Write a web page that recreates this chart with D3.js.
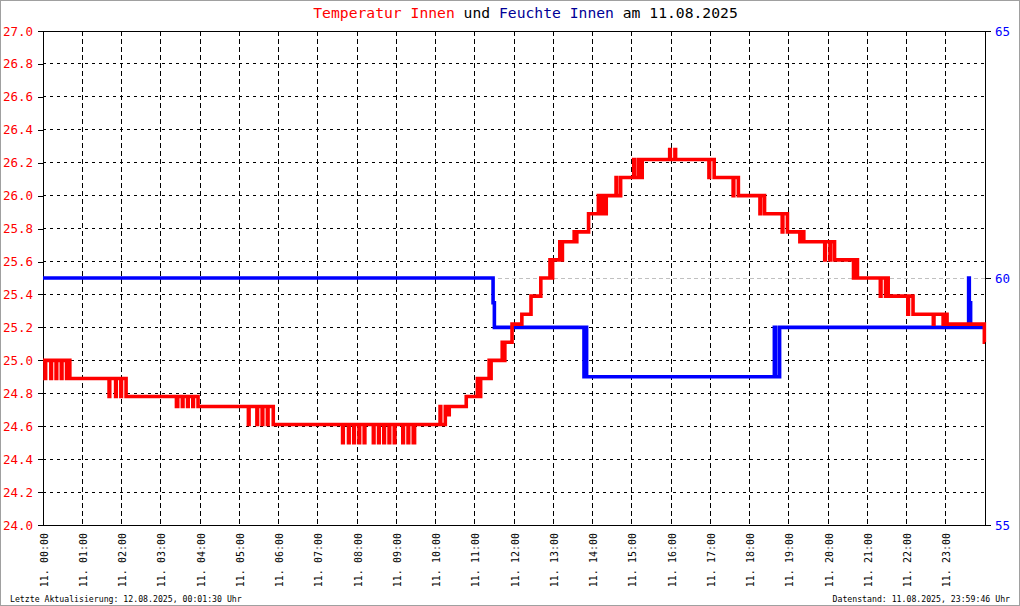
<!DOCTYPE html>
<html>
<head>
<meta charset="utf-8">
<script src="https://cdn.jsdelivr.net/npm/d3@7"></script>
<style>
  html, body { margin: 0; padding: 0; background: #fff; }
  svg { display: block; }
  text { font-family: "DejaVu Sans Mono", monospace; }
</style>
</head>
<body>
<svg id="chart" width="1020" height="606"></svg>
<script>
// values (time in minutes since 00:00)
const tempTicks = [24.0, 24.2, 24.4, 24.6, 24.8, 25.0, 25.2, 25.4, 25.6, 25.8, 26.0, 26.2, 26.4, 26.6, 26.8, 27.0];
const humTicks = [55, 60, 65];
const hourTicks = [0, 1, 2, 3, 4, 5, 6, 7, 8, 9, 10, 11, 12, 13, 14, 15, 16, 17, 18, 19, 20, 21, 22, 23];
const hourLabels = ["11. 00:00", "11. 01:00", "11. 02:00", "11. 03:00", "11. 04:00", "11. 05:00",
  "11. 06:00", "11. 07:00", "11. 08:00", "11. 09:00", "11. 10:00", "11. 11:00",
  "11. 12:00", "11. 13:00", "11. 14:00", "11. 15:00", "11. 16:00", "11. 17:00",
  "11. 18:00", "11. 19:00", "11. 20:00", "11. 21:00", "11. 22:00", "11. 23:00"];

// temperature, [minute, °C], step values
const tempSeries = [
  [0,25.0],[3,24.89],[4,25.0],[12,24.89],[13,25.0],[20,24.89],[21,25.0],[28,24.89],[29,25.0],[36,24.89],[37,25.0],[41,24.89],
  [101,24.78],[102,24.89],[111,24.78],[112,24.89],[119,24.78],[120,24.89],[127,24.78],
  [204,24.72],[206,24.78],[213,24.72],[214,24.78],[221,24.72],[222,24.78],[229,24.72],[230,24.78],[237,24.72],
  [314,24.61],[315,24.72],[327,24.61],[328,24.72],[335,24.61],[336,24.72],[343,24.61],[344,24.72],[352,24.61],
  [458,24.5],[459,24.61],[467,24.5],[468,24.61],[475,24.5],[476,24.61],[483,24.5],[484,24.61],[491,24.5],[492,24.61],
  [505,24.5],[506,24.61],[513,24.5],[514,24.61],[521,24.5],[522,24.61],[529,24.5],[530,24.61],[537,24.5],[538,24.61],
  [550,24.5],[551,24.61],[558,24.5],[559,24.61],[566,24.5],[568,24.61],
  [607,24.72],[608,24.61],[615,24.72],[620,24.67],[621,24.72],
  [647,24.78],[664,24.89],[665,24.78],[669,24.89],[682,25.0],[683,24.89],[685,25.0],
  [702,25.11],[703,25.0],[706,25.11],[717,25.22],[732,25.28],[746,25.39],[761,25.5],
  [775,25.61],[776,25.5],[779,25.61],[790,25.72],[791,25.61],[794,25.72],
  [812,25.78],[813,25.72],[816,25.78],[834,25.89],
  [849,26.0],[850,25.89],[855,26.0],[856,25.89],[861,26.0],
  [876,26.11],[877,26.0],[883,26.11],
  [903,26.22],[904,26.11],[910,26.22],[911,26.11],[916,26.22],
  [958,26.28],[959,26.22],[966,26.28],[967,26.22],
  [1018,26.11],[1019,26.22],[1026,26.11],
  [1055,26.0],[1056,26.11],[1063,26.0],
  [1096,25.89],[1097,26.0],[1103,25.89],
  [1130,25.78],[1131,25.89],[1138,25.78],
  [1157,25.72],[1158,25.78],[1163,25.72],
  [1195,25.61],[1196,25.72],[1203,25.61],[1204,25.72],[1210,25.61],
  [1239,25.5],[1240,25.61],[1245,25.5],
  [1280,25.39],[1281,25.5],[1288,25.39],[1289,25.5],[1292,25.39],
  [1322,25.28],[1323,25.39],[1330,25.28],
  [1361,25.22],[1362,25.28],[1376,25.22],[1377,25.28],[1382,25.22],
  [1439,25.11],[1440,25.11]
];

// humidity, [minute, %]
const humSeries = [
  [0,60],[688,59.5],[690,59],[827,58],[829,59],[831,58],
  [1118,59],[1120,58],[1126,59],[1415,60],[1416,59.5],[1418,59],[1440,59]
];

const svg = d3.select("#chart");
const W = 1020, H = 606;
const margin = { top: 31, right: 35, bottom: 81, left: 43 };

const x = d3.scaleLinear().domain([0, 1440]).range([margin.left, W - margin.right]);
const yT = d3.scaleLinear().domain([24, 27]).range([H - margin.bottom, margin.top]);
const yH = d3.scaleLinear().domain([55, 65]).range([H - margin.bottom, margin.top]);

// outer grey border
svg.append("rect")
  .attr("x", 0.5).attr("y", 0.5).attr("width", W - 1).attr("height", H - 1)
  .attr("fill", "#fff").attr("stroke", "#a0a0a0");

// grid
const grid = svg.append("g").attr("shape-rendering", "crispEdges");
grid.selectAll(".hgrid")
  .data(tempTicks.filter(d => d > 24 && d < 27))
  .join("line")
  .attr("x1", x(0)).attr("x2", x(1440))
  .attr("y1", d => yT(d)).attr("y2", d => yT(d))
  .attr("stroke", "#000").attr("stroke-dasharray", "3,4");

grid.selectAll(".vgrid")
  .data(hourTicks.filter(d => d > 0))
  .join("line")
  .attr("x1", d => x(d * 60)).attr("x2", d => x(d * 60))
  .attr("y1", yT(27)).attr("y2", yT(24))
  .attr("stroke", "#000").attr("stroke-dasharray", "5,3");

// 60 % reference line
grid.append("line")
  .attr("x1", x(0)).attr("x2", x(1440))
  .attr("y1", yH(60)).attr("y2", yH(60))
  .attr("stroke", "#c0c0c0").attr("stroke-dasharray", "4,3");

// frame
svg.append("rect")
  .attr("x", x(0)).attr("y", yT(27))
  .attr("width", x(1440) - x(0)).attr("height", yT(24) - yT(27))
  .attr("fill", "none").attr("stroke", "#000")
  .attr("shape-rendering", "crispEdges");

// left axis
const axL = svg.append("g")
  .attr("transform", `translate(${x(0)},0)`)
  .call(d3.axisLeft(yT).tickValues(tempTicks).tickFormat(d3.format(".1f")).tickSize(5).tickPadding(5));
axL.select(".domain").remove();
axL.selectAll("line").attr("stroke", "#000").attr("shape-rendering", "crispEdges");
axL.selectAll("text").attr("fill", "#ff0000").attr("font-size", 12.5)
  .attr("font-family", "DejaVu Sans Mono, monospace");

// right axis
const axR = svg.append("g")
  .attr("transform", `translate(${x(1440)},0)`)
  .call(d3.axisRight(yH).tickValues(humTicks).tickSize(6).tickPadding(4));
axR.select(".domain").remove();
axR.selectAll("line").attr("stroke", "#000").attr("shape-rendering", "crispEdges");
axR.selectAll("text").attr("fill", "#0000ff").attr("font-size", 12.5)
  .attr("font-family", "DejaVu Sans Mono, monospace");

// bottom labels
const axB = svg.append("g")
  .attr("transform", `translate(0,${yT(24)})`)
  .call(d3.axisBottom(x).tickValues(hourTicks.map(h => h * 60)).tickSize(0)
    .tickFormat((d, i) => hourLabels[i]));
axB.select(".domain").remove();
axB.selectAll("text")
  .attr("font-size", 10)
  .attr("font-family", "DejaVu Sans Mono, monospace")
  .attr("fill", "#000")
  .attr("text-anchor", "end")
  .attr("transform", "rotate(-90)")
  .attr("x", -8).attr("y", 4).attr("dy", 0);

// series
const stepLine = (yScale) => d3.line()
  .x(d => x(d[0])).y(d => yScale(d[1]))
  .curve(d3.curveStepAfter);

svg.append("path")
  .datum(humSeries)
  .attr("d", stepLine(yH))
  .attr("fill", "none").attr("stroke", "#0000ff").attr("stroke-width", 3.6)
  .attr("stroke-linejoin", "miter");

svg.append("path")
  .datum(tempSeries)
  .attr("d", stepLine(yT))
  .attr("fill", "none").attr("stroke", "#ff0000").attr("stroke-width", 3.6)
  .attr("stroke-linejoin", "miter");

// title
const title = svg.append("text")
  .attr("x", 525.5).attr("y", 18)
  .attr("text-anchor", "middle")
  .attr("font-size", 14.7);
title.append("tspan").attr("fill", "#ff0000").text("Temperatur Innen");
title.append("tspan").attr("fill", "#000").text(" und ");
title.append("tspan").attr("fill", "#000096").text("Feuchte Innen");
title.append("tspan").attr("fill", "#000").text(" am 11.08.2025");

// footer
svg.append("text")
  .attr("x", 10).attr("y", 602)
  .attr("font-size", 8.2).attr("fill", "#000")
  .text("Letzte Aktualisierung: 12.08.2025, 00:01:30 Uhr");
svg.append("text")
  .attr("x", 1010).attr("y", 602)
  .attr("text-anchor", "end")
  .attr("font-size", 8.2).attr("fill", "#000")
  .text("Datenstand: 11.08.2025, 23:59:46 Uhr");
</script>
</body>
</html>
